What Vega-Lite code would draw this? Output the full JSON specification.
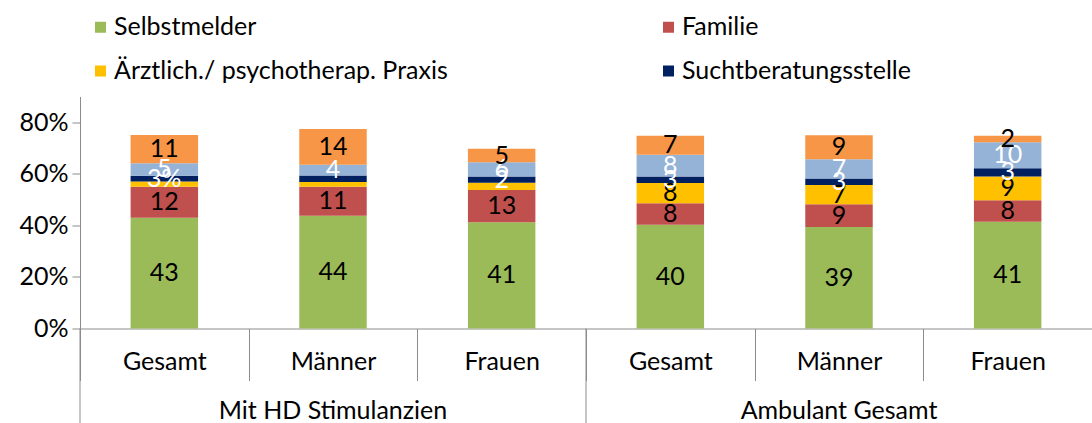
{
  "$schema": "https://vega.github.io/schema/vega-lite/v6.json",
  "width": 1012,
  "height": 232,
  "autosize": {"type": "none"},
  "padding": {"left": 80, "top": 96.5, "right": 0, "bottom": 94.5},
  "config": {
    "font": "Lato",
    "view": {"stroke": null},
    "axis": {"domainColor": "#8c8c8c", "tickColor": "#8c8c8c", "labelColor": "#000000", "labelFontSize": 25, "labelFont": "Lato", "grid": false, "title": null}
  },
  "datasets": {
    "main": [
      {"key": "Mit HD Stimulanzien|Gesamt", "cat": "Selbstmelder", "rank": 1, "value": 43, "label": "43"},
      {"key": "Mit HD Stimulanzien|Gesamt", "cat": "Familie", "rank": 2, "value": 12, "label": "12"},
      {"key": "Mit HD Stimulanzien|Gesamt", "cat": "Ärztlich./ psychotherap. Praxis", "rank": 3, "value": 2, "label": ""},
      {"key": "Mit HD Stimulanzien|Gesamt", "cat": "Suchtberatungsstelle", "rank": 4, "value": 2.3, "label": "3%"},
      {"key": "Mit HD Stimulanzien|Gesamt", "cat": "Krankenhaus", "rank": 5, "value": 4.8, "label": "5"},
      {"key": "Mit HD Stimulanzien|Gesamt", "cat": "Sonstige", "rank": 6, "value": 11, "label": "11"},
      {"key": "Mit HD Stimulanzien|Männer", "cat": "Selbstmelder", "rank": 1, "value": 43.7, "label": "44"},
      {"key": "Mit HD Stimulanzien|Männer", "cat": "Familie", "rank": 2, "value": 11.3, "label": "11"},
      {"key": "Mit HD Stimulanzien|Männer", "cat": "Ärztlich./ psychotherap. Praxis", "rank": 3, "value": 1.8, "label": ""},
      {"key": "Mit HD Stimulanzien|Männer", "cat": "Suchtberatungsstelle", "rank": 4, "value": 2.6, "label": ""},
      {"key": "Mit HD Stimulanzien|Männer", "cat": "Krankenhaus", "rank": 5, "value": 4.1, "label": "4"},
      {"key": "Mit HD Stimulanzien|Männer", "cat": "Sonstige", "rank": 6, "value": 13.9, "label": "14"},
      {"key": "Mit HD Stimulanzien|Frauen", "cat": "Selbstmelder", "rank": 1, "value": 41.2, "label": "41"},
      {"key": "Mit HD Stimulanzien|Frauen", "cat": "Familie", "rank": 2, "value": 12.5, "label": "13"},
      {"key": "Mit HD Stimulanzien|Frauen", "cat": "Ärztlich./ psychotherap. Praxis", "rank": 3, "value": 2.8, "label": ""},
      {"key": "Mit HD Stimulanzien|Frauen", "cat": "Suchtberatungsstelle", "rank": 4, "value": 2.5, "label": "2"},
      {"key": "Mit HD Stimulanzien|Frauen", "cat": "Krankenhaus", "rank": 5, "value": 5.5, "label": "6"},
      {"key": "Mit HD Stimulanzien|Frauen", "cat": "Sonstige", "rank": 6, "value": 5.2, "label": "5"},
      {"key": "Ambulant Gesamt|Gesamt", "cat": "Selbstmelder", "rank": 1, "value": 40.2, "label": "40"},
      {"key": "Ambulant Gesamt|Gesamt", "cat": "Familie", "rank": 2, "value": 8.4, "label": "8"},
      {"key": "Ambulant Gesamt|Gesamt", "cat": "Ärztlich./ psychotherap. Praxis", "rank": 3, "value": 7.8, "label": "8"},
      {"key": "Ambulant Gesamt|Gesamt", "cat": "Suchtberatungsstelle", "rank": 4, "value": 2.6, "label": "3"},
      {"key": "Ambulant Gesamt|Gesamt", "cat": "Krankenhaus", "rank": 5, "value": 8.4, "label": "8"},
      {"key": "Ambulant Gesamt|Gesamt", "cat": "Sonstige", "rank": 6, "value": 7.4, "label": "7"},
      {"key": "Ambulant Gesamt|Männer", "cat": "Selbstmelder", "rank": 1, "value": 39.4, "label": "39"},
      {"key": "Ambulant Gesamt|Männer", "cat": "Familie", "rank": 2, "value": 8.8, "label": "9"},
      {"key": "Ambulant Gesamt|Männer", "cat": "Ärztlich./ psychotherap. Praxis", "rank": 3, "value": 7.5, "label": "7"},
      {"key": "Ambulant Gesamt|Männer", "cat": "Suchtberatungsstelle", "rank": 4, "value": 2.5, "label": "3"},
      {"key": "Ambulant Gesamt|Männer", "cat": "Krankenhaus", "rank": 5, "value": 7.5, "label": "7"},
      {"key": "Ambulant Gesamt|Männer", "cat": "Sonstige", "rank": 6, "value": 9.3, "label": "9"},
      {"key": "Ambulant Gesamt|Frauen", "cat": "Selbstmelder", "rank": 1, "value": 41.4, "label": "41"},
      {"key": "Ambulant Gesamt|Frauen", "cat": "Familie", "rank": 2, "value": 8.4, "label": "8"},
      {"key": "Ambulant Gesamt|Frauen", "cat": "Ärztlich./ psychotherap. Praxis", "rank": 3, "value": 9.2, "label": "9"},
      {"key": "Ambulant Gesamt|Frauen", "cat": "Suchtberatungsstelle", "rank": 4, "value": 3.2, "label": "3"},
      {"key": "Ambulant Gesamt|Frauen", "cat": "Krankenhaus", "rank": 5, "value": 10.1, "label": "10"},
      {"key": "Ambulant Gesamt|Frauen", "cat": "Sonstige", "rank": 6, "value": 2.5, "label": "2"}
    ],
    "groups": [
      {"start": "Mit HD Stimulanzien|Gesamt", "mid": "Mit HD Stimulanzien|Männer", "group": "Mit HD Stimulanzien"},
      {"start": "Ambulant Gesamt|Gesamt", "mid": "Ambulant Gesamt|Männer", "group": "Ambulant Gesamt"}
    ]
  },
  "resolve": {"scale": {"color": "independent"}},
  "layer": [
    {
      "data": {"name": "main"},
      "mark": {"type": "bar", "width": {"band": 0.4}},
      "encoding": {
        "x": {
          "field": "key", "type": "nominal", "sort": null,
          "scale": {"paddingInner": 0, "paddingOuter": 0},
          "axis": {"tickBand": "extent", "tickSize": 52, "labelPadding": -31, "labelAngle": 0, "labelExpr": "split(datum.value, '|')[1]"}
        },
        "y": {
          "field": "value", "type": "quantitative", "stack": "zero",
          "scale": {"domain": [0, 90], "nice": false},
          "axis": {"values": [0, 20, 40, 60, 80], "labelExpr": "datum.value + '%'", "tickSize": 8, "labelPadding": 4}
        },
        "order": {"field": "rank", "type": "quantitative"},
        "color": {
          "field": "cat", "type": "nominal",
          "sort": ["Selbstmelder", "Familie", "Ärztlich./ psychotherap. Praxis", "Suchtberatungsstelle", "Krankenhaus", "Sonstige"],
          "scale": {
            "domain": ["Selbstmelder", "Familie", "Ärztlich./ psychotherap. Praxis", "Suchtberatungsstelle", "Krankenhaus", "Sonstige"],
            "range": ["#9BBB59", "#C0504D", "#FFC000", "#002060", "#95B3D7", "#F79646"]
          },
          "legend": {
            "title": null, "orient": "none", "legendX": 8, "legendY": -82, "direction": "horizontal", "columns": 2, "columnPadding": 208, "rowPadding": 18,
            "values": ["Selbstmelder", "Familie", "Ärztlich./ psychotherap. Praxis", "Suchtberatungsstelle"],
            "symbolType": "square", "symbolSize": 121, "symbolStrokeWidth": 0, "labelFontSize": 25, "labelFont": "Lato", "labelColor": "#000000", "labelOffset": 1, "padding": 0, "labelLimit": 600
          }
        }
      }
    },
    {
      "data": {"name": "main"},
      "mark": {"type": "text", "fontSize": 25, "baseline": "middle"},
      "encoding": {
        "x": {"field": "key", "type": "nominal", "sort": null},
        "y": {"field": "value", "type": "quantitative", "stack": "zero", "bandPosition": 0.5},
        "order": {"field": "rank", "type": "quantitative"},
        "text": {"field": "label"},
        "color": {
          "field": "cat", "type": "nominal",
          "scale": {
            "domain": ["Selbstmelder", "Familie", "Ärztlich./ psychotherap. Praxis", "Suchtberatungsstelle", "Krankenhaus", "Sonstige"],
            "range": ["#000000", "#000000", "#000000", "#ffffff", "#ffffff", "#000000"]
          },
          "legend": null
        }
      }
    },
    {
      "data": {"name": "groups"},
      "mark": {"type": "rule", "color": "#8c8c8c", "strokeWidth": 1},
      "encoding": {
        "x": {"field": "start", "type": "nominal", "sort": null, "bandPosition": 0},
        "y": {"datum": 0, "type": "quantitative"},
        "y2": {"datum": -37}
      }
    },
    {
      "data": {"name": "groups"},
      "mark": {"type": "text", "fontSize": 25, "baseline": "middle", "color": "#000000"},
      "encoding": {
        "x": {"field": "mid", "type": "nominal", "sort": null},
        "y": {"datum": -32, "type": "quantitative"},
        "text": {"field": "group"}
      }
    }
  ]
}
